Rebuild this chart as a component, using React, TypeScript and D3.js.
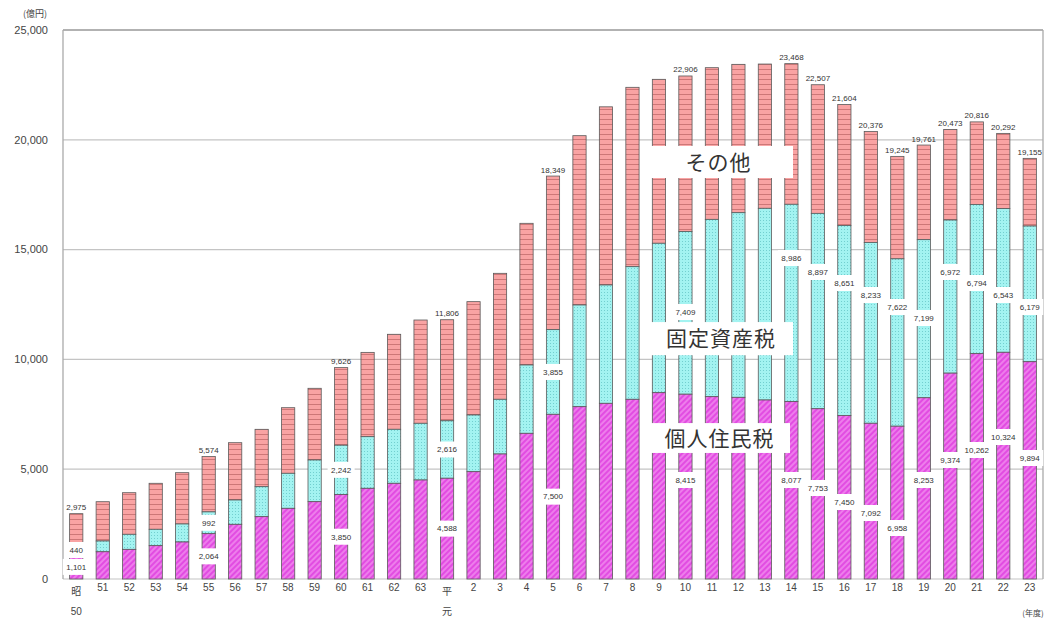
import React from "react";
import * as d3 from "d3";

const years = ["昭50","51","52","53","54","55","56","57","58","59","60","61","62","63","平元","2","3","4","5","6","7","8","9","10","11","12","13","14","15","16","17","18","19","20","21","22","23"];
const personal = [1101,1240,1350,1517,1685,2064,2490,2838,3219,3520,3850,4130,4358,4508,4588,4886,5692,6634,7500,7846,8000,8183,8484,8415,8302,8273,8151,8077,7753,7450,7092,6958,8253,9374,10262,10324,9894];
const fixedAsset = [440,490,685,746,820,992,1107,1365,1594,1899,2242,2350,2459,2582,2616,2582,2491,3111,3855,4631,5388,6039,6804,7409,8075,8407,8729,8986,8897,8651,8233,7622,7199,6972,6794,6543,6179];
const totals = [2975,3520,3930,4358,4841,5574,6207,6816,7801,8684,9626,10320,11143,11794,11806,12630,13920,16197,18349,20188,21502,22390,22754,22906,23284,23436,23450,23468,22507,21604,20376,19245,19761,20473,20816,20292,19155];
// years whose values are printed
const labelled = ["昭50","55","60","平元","5","10","14","15","16","17","18","19","20","21","22","23"];
// value at which the printed 固定資産税 / 個人住民税 labels sit (null = middle of segment)
const fixedLabelAt = [null,null,null,null,null,12158,14617,13980,13479,12933,12386,11885,13980,13479,12933,12386];
const personalLabelAt = [null,null,null,null,null,4508,4508,4144,3506,3005,2322,4508,5419,5874,6466,5510];
const yTicks = [0,5000,10000,15000,20000,25000];
const seriesNames = ["その他","固定資産税","個人住民税"];

const fmt = d3.format(",");

export default function App() {
  const W = 1051, H = 618;
  const left = 63, right = 1043, top = 30, bottom = 579;
  const x = d3.scaleBand<string>().domain(years).range([left, right]).paddingInner(0.5).paddingOuter(0.25);
  const y = d3.scaleLinear().domain([0, 25000]).range([bottom, top]);
  const bw = x.bandwidth();
  const font = "Arial, 'Liberation Sans', sans-serif";
  const jp = "'Noto Sans CJK JP', sans-serif";

  const legendBoxes = [
    { name: seriesNames[0], v0: 18260, v1: 19720, x0: 640, x1: 793 },
    { name: seriesNames[1], v0: 10190, v1: 11700, x0: 645, x1: 793 },
    { name: seriesNames[2], v0: 5740, v1: 7100, x0: 645, x1: 790 },
  ];

  const textW = (s: string) => s.length * 4.6 + 4;

  return (
    <svg width={W} height={H} style={{ position: "absolute", left: 0, top: 0, background: "#fff" }}>
      <defs>
        <pattern id="pinkPat" width="6" height="5" patternUnits="userSpaceOnUse">
          <rect width="6" height="5" fill="#F9A3A3" />
          <line x1="0" y1="4.5" x2="6" y2="4.5" stroke="#C87272" strokeWidth="0.9" />
        </pattern>
        <pattern id="cyanPat" width="3" height="3" patternUnits="userSpaceOnUse">
          <rect width="3" height="3" fill="#A3F3F1" />
          <rect x="1" y="1" width="1" height="1" fill="#72CFCF" />
        </pattern>
        <pattern id="magPat" width="4" height="4" patternUnits="userSpaceOnUse" patternTransform="rotate(-45)">
          <rect width="4" height="4" fill="#E24CE2" />
          <line x1="0" y1="1" x2="4" y2="1" stroke="#F6A6F4" strokeWidth="1.1" />
        </pattern>
      </defs>

      {/* grid */}
      {yTicks.map((t) => (
        <line key={"g" + t} x1={left} x2={right} y1={y(t)} y2={y(t)} stroke={t === 25000 ? "#999" : "#c4c4c4"} strokeWidth={t === 25000 ? 1.5 : 1.2} />
      ))}
      <line x1={left} x2={left} y1={top} y2={bottom} stroke="#aaa" strokeWidth={1.3} />
      <line x1={right} x2={right} y1={top} y2={bottom} stroke="#aaa" strokeWidth={1.3} />

      {/* y tick labels */}
      {yTicks.map((t) => (
        <text key={"t" + t} x={48} y={y(t)} dy="0.35em" textAnchor="end" fontFamily={font} fontSize={11} fill="#444">{fmt(t)}</text>
      ))}
      <text x={35} y={17} textAnchor="middle" fontFamily={jp} fontSize={9} fill="#444">(億円)</text>

      {/* bars */}
      {years.map((yr, i) => {
        const bx = x(yr)!;
        const p = personal[i], f = fixedAsset[i], t = totals[i];
        return (
          <g key={yr}>
            <rect x={bx} y={y(t)} width={bw} height={y(p + f) - y(t)} fill="url(#pinkPat)" stroke="#5a5a5a" strokeWidth={0.8} />
            <rect x={bx} y={y(p + f)} width={bw} height={y(p) - y(p + f)} fill="url(#cyanPat)" stroke="#5a5a5a" strokeWidth={0.8} />
            <rect x={bx} y={y(p)} width={bw} height={y(0) - y(p)} fill="url(#magPat)" stroke="#5a5a5a" strokeWidth={0.8} />
          </g>
        );
      })}

      {/* x labels */}
      {years.map((yr) => {
        const cx = x(yr)! + bw / 2;
        if (yr.length === 3 || yr === "平元") {
          const a = yr.slice(0, 1), b = yr.slice(1);
          return (
            <g key={"x" + yr}>
              <text x={cx} y={591} dy="0.35em" textAnchor="middle" fontFamily={jp} fontSize={10} fill="#444">{a}</text>
              <text x={cx} y={611} dy="0.35em" textAnchor="middle" fontFamily={b === "元" ? jp : font} fontSize={10} fill="#444">{b}</text>
            </g>
          );
        }
        return <text key={"x" + yr} x={cx} y={587} dy="0.35em" textAnchor="middle" fontFamily={font} fontSize={10} fill="#444">{yr}</text>;
      })}
      <text x={1033} y={613} dy="0.35em" textAnchor="middle" fontFamily={jp} fontSize={8} fill="#444">(年度)</text>

      {/* value labels */}
      {labelled.map((yr, k) => {
        const i = years.indexOf(yr);
        const cx = x(yr)! + bw / 2;
        const p = personal[i], f = fixedAsset[i], t = totals[i];
        const fy = y(fixedLabelAt[k] ?? p + f / 2);
        const py = y(personalLabelAt[k] ?? p / 2);
        const sf = fmt(f), sp = fmt(p), st = fmt(t);
        return (
          <g key={"l" + yr}>
            <rect x={cx - textW(sf) / 2} y={fy - 8} width={textW(sf)} height={16} fill="#fff" />
            <rect x={cx - textW(sp) / 2} y={py - 8} width={textW(sp)} height={16} fill="#fff" />
            <text x={cx} y={fy} dy="0.35em" textAnchor="middle" fontFamily={font} fontSize={8} fill="#333">{sf}</text>
            <text x={cx} y={py} dy="0.35em" textAnchor="middle" fontFamily={font} fontSize={8} fill="#333">{sp}</text>
            <text x={cx} y={y(t) - 3.5} textAnchor="middle" fontFamily={font} fontSize={8} fill="#333">{st}</text>
          </g>
        );
      })}

      {/* series name boxes */}
      {legendBoxes.map((b) => (
        <g key={b.name}>
          <rect x={b.x0} y={y(b.v1)} width={b.x1 - b.x0} height={y(b.v0) - y(b.v1)} fill="#fff" />
          <text x={(b.x0 + b.x1) / 2 + 2} y={(y(b.v0) + y(b.v1)) / 2} dy="0.36em" textAnchor="middle" fontFamily={jp} fontSize={21} fill="#333" letterSpacing={1}>{b.name}</text>
        </g>
      ))}
    </svg>
  );
}
